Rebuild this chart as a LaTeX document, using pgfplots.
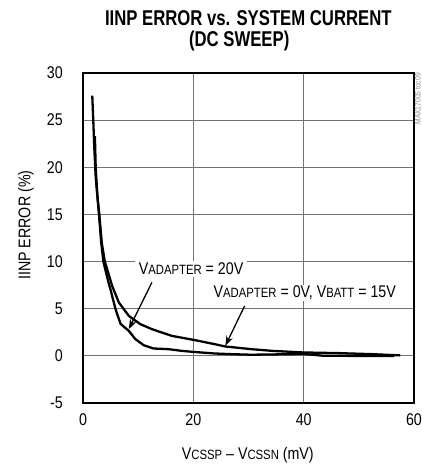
\documentclass[border=0pt]{standalone}
\usepackage{fontspec}
\setmainfont{Liberation Sans}[FakeStretch=0.84]
\newfontfamily\titlefont{Liberation Sans}[FakeStretch=0.78]
\usepackage{pgfplots}
\pgfplotsset{compat=1.18}
\usetikzlibrary{arrows.meta}

\newcommand{\lab}{\fontsize{17}{19}\selectfont}
\newcommand{\sm}{\fontsize{13.5}{15}\selectfont}

\begin{document}
\begin{tikzpicture}
\path[use as bounding box] (0,0) rectangle (422bp,464bp);
\begin{axis}[
  at={(83bp,61bp)}, anchor=south west,
  scale only axis, width=331bp, height=330bp,
  xmin=0, xmax=60, ymin=-5, ymax=30,
  xtick={0,20,40,60}, ytick={-5,0,5,10,15,20,25,30},
  grid=major,
  major grid style={line width=1pt, color=black!55},
  axis line style={line width=3pt, black},
  major tick length=0pt,
  tick label style={font=\lab, inner sep=0pt},
  xticklabel style={yshift=-10bp},
  yticklabel style={xshift=-20bp},
  /pgf/number format/assume math mode=true,
  clip=false,
]
% VADAPTER = 20V
\addplot[black, line width=2.3pt, line join=round] coordinates {
(1.68,27.6) (1.86,25) (2.05,22) (2.3,19) (2.6,17) (2.9,15) (3.3,12) (3.7,10)
(4.1,9.0) (4.7,7.6) (5.0,7.0) (5.9,4.95) (6.8,3.4) (8.3,2.65) (9.5,1.77)
(11,1.13) (12.8,0.78) (15.5,0.71) (17.9,0.53) (20,0.42) (23.9,0.25) (26.9,0.18)
(30.5,0.12) (34.3,0.15) (40,0.2) (43.4,0.02) (48,0) (56.4,0)
};
% VADAPTER = 0V, VBATT = 15V
\addplot[black, line width=2.3pt, line join=round] coordinates {
(2.16,23.3) (2.3,20) (2.6,17) (2.95,15) (3.4,12) (3.96,10) (4.38,9.2) (5.28,7.42)
(6.5,5.66) (8.3,4.24) (10.4,3.36) (12.5,2.83) (16.1,2.12) (20,1.7) (23.9,1.24)
(25.7,1.0) (28.2,0.85) (30.5,0.71) (34.3,0.53) (39.9,0.36) (46.4,0.29) (52.4,0.18)
(57.5,0.05)
};
\node[fill=white, anchor=base, inner xsep=4bp, inner ysep=2bp, font=\lab]
  at (axis cs:19.6,8.6) {V{\sm ADAPTER} = 20V};
\node[fill=white, anchor=base, inner xsep=3bp, inner ysep=1bp, font=\lab]
  at (axis cs:40.2,6.2) {V{\sm ADAPTER} = 0V, V{\sm BATT} = 15V};
\draw[line width=1.3pt, -{Stealth[length=10bp,width=7bp]}]
  (axis cs:12.5,7.8) -- (axis cs:8.3,2.83);
\draw[line width=1.3pt, -{Stealth[length=10bp,width=7bp]}]
  (axis cs:29.3,5.3) -- (axis cs:25.8,1.06);
% titles and labels
\node[font=\titlefont\fontsize{21.5}{24}\selectfont\bfseries]
  at (axis description cs:0.4995,1.165) {IINP ERROR vs. SYSTEM CURRENT};
\node[font=\titlefont\fontsize{21.5}{24}\selectfont\bfseries]
  at (axis description cs:0.472,1.097) {(DC SWEEP)};
\node[rotate=90, font=\lab]
  at (axis description cs:-0.172,0.539) {IINP ERROR (\%)};
\node[font=\lab]
  at (axis description cs:0.498,-0.158) {V{\sm CSSP} -- V{\sm CSSN} (mV)};
\node[rotate=90, anchor=east, font=\fontsize{8}{9}\selectfont, text=black!45, inner sep=0pt]
  at (axis description cs:1.012,1.0) {MAX17005 toc09};
\end{axis}
\end{tikzpicture}
\end{document}
